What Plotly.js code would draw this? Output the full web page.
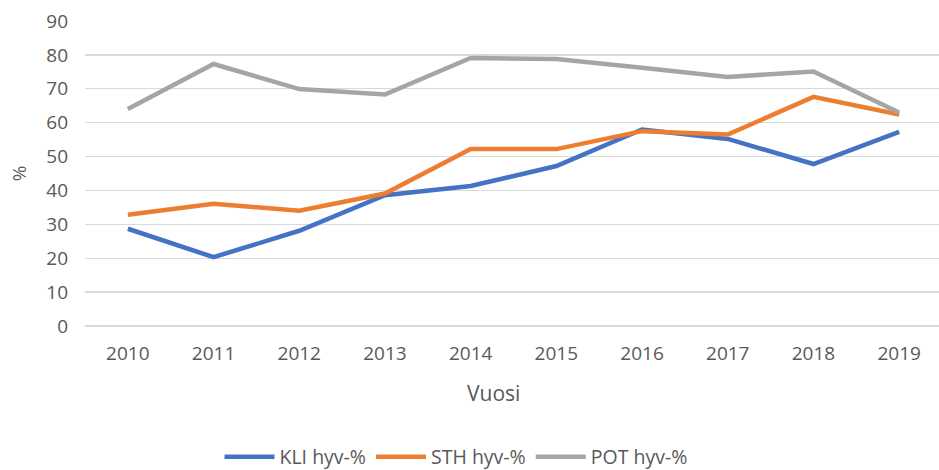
<!DOCTYPE html>
<html>
<head>
<meta charset="utf-8">
<script src="https://cdn.plot.ly/plotly-3.0.1.min.js"></script>
<style>html,body{margin:0;padding:0;background:#fff;}#chart{width:939px;height:470px;}</style>
</head>
<body>
<div id="chart"></div>
<script>
const years = ["2010","2011","2012","2013","2014","2015","2016","2017","2018","2019"];
const kliValues = [28.7, 20.3, 28.1, 38.6, 41.3, 47.2, 58.0, 55.2, 47.8, 57.3];
const sthValues = [32.8, 36.1, 34.0, 39.1, 52.2, 52.2, 57.5, 56.5, 67.6, 62.4];
const potValues = [64.0, 77.3, 69.9, 68.3, 79.1, 78.8, 76.2, 73.5, 75.1, 63.0];
const seriesNames = ["KLI hyv-%", "STH hyv-%", "POT hyv-%"];
const yTicks = [0,10,20,30,40,50,60,70,80,90];
const xTitle = "Vuosi";
const yTitle = "%";

const font = "Open Sans, Noto Sans, sans-serif";
const textColor = "#595959";

const traces = [
  {x: years, y: kliValues, name: seriesNames[0], type: "scatter", mode: "lines",
   line: {color: "#4472C4", width: 4.5}},
  {x: years, y: sthValues, name: seriesNames[1], type: "scatter", mode: "lines",
   line: {color: "#ED7D31", width: 4.5}},
  {x: years, y: potValues, name: seriesNames[2], type: "scatter", mode: "lines",
   line: {color: "#A5A5A5", width: 4.5}}
];

const layout = {
  width: 939, height: 470,
  margin: {l: 85, r: 0, t: 21, b: 144, autoexpand: false},
  paper_bgcolor: "#fff", plot_bgcolor: "#fff",
  font: {family: font, size: 19, color: textColor},
  showlegend: true,
  legend: {orientation: "h", xref: "container", yref: "container",
           x: 456 / 939, xanchor: "center", y: 1 - 457 / 470, yanchor: "middle",
           font: {family: font, size: 19.5, color: textColor}, itemwidth: 50,
           tracegroupgap: 0},
  xaxis: {
    type: "category", range: [-0.5, 9.465], automargin: false,
    showgrid: false, zeroline: false, showline: false, ticks: "",
    tickfont: {family: font, size: 19, color: textColor},
    ticklabelstandoff: 14
  },
  yaxis: {
    range: [0, 90], tickvals: yTicks, ticktext: yTicks.map(String), automargin: false,
    showgrid: true, gridcolor: "#D9D9D9", gridwidth: 1.4,
    zeroline: true, zerolinecolor: "#D9D9D9", zerolinewidth: 1.4,
    showline: false, ticks: "",
    tickfont: {family: font, size: 19, color: textColor},
    ticklabelstandoff: 16,
    title: {text: yTitle, font: {family: font, size: 19, color: textColor}, standoff: 14}
  },
  annotations: [
    {text: xTitle, xref: "paper", yref: "paper", x: (493 - 85) / 854, y: -(393 - 326) / 305,
     xanchor: "center", yanchor: "middle", showarrow: false,
     font: {family: font, size: 21, color: textColor}}
  ]
};

Plotly.newPlot("chart", traces, layout, {displayModeBar: false, staticPlot: true});
</script>
</body>
</html>
